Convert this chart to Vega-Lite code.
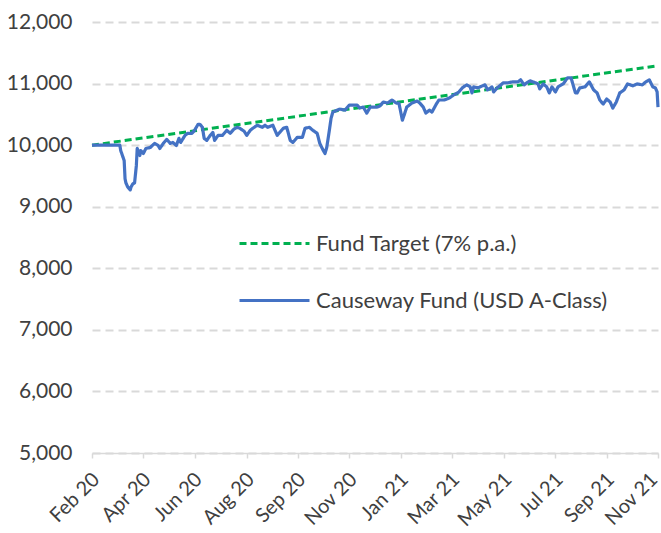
{
  "$schema": "https://vega.github.io/schema/vega-lite/v6.json",
  "width": 566,
  "height": 431,
  "autosize": "none",
  "padding": {"left": 92, "top": 22, "right": 3, "bottom": 80},
  "background": "white",
  "config": {
    "view": {"stroke": null},
    "font": "Lato",
    "axis": {"labelFont": "Lato", "labelFontSize": 20, "labelColor": "#404040"},
    "legend": {"labelFont": "Lato", "labelFontSize": 22, "labelColor": "#404040", "labelLimit": 0}
  },
  "datasets": {
    "target": [
      {"date": "2020-02-14", "value": 10000, "s": "Fund Target (7% p.a.)"},
      {"date": "2021-11-26", "value": 11290, "s": "Fund Target (7% p.a.)"}
    ],
    "fund": [
      {"date": "2020-02-14", "value": 10000},
      {"date": "2020-02-23", "value": 10000},
      {"date": "2020-03-06", "value": 10000},
      {"date": "2020-03-17", "value": 10000},
      {"date": "2020-03-18", "value": 9913},
      {"date": "2020-03-22", "value": 9749},
      {"date": "2020-03-23", "value": 9454},
      {"date": "2020-03-24", "value": 9388},
      {"date": "2020-03-26", "value": 9323},
      {"date": "2020-03-29", "value": 9273},
      {"date": "2020-03-30", "value": 9323},
      {"date": "2020-04-01", "value": 9372},
      {"date": "2020-04-03", "value": 9388},
      {"date": "2020-04-05", "value": 9667},
      {"date": "2020-04-06", "value": 9946},
      {"date": "2020-04-09", "value": 9831},
      {"date": "2020-04-10", "value": 9913},
      {"date": "2020-04-13", "value": 9864},
      {"date": "2020-04-16", "value": 9946},
      {"date": "2020-04-21", "value": 9962},
      {"date": "2020-04-26", "value": 10028},
      {"date": "2020-04-30", "value": 9995},
      {"date": "2020-05-02", "value": 9946},
      {"date": "2020-05-06", "value": 10028},
      {"date": "2020-05-10", "value": 10093},
      {"date": "2020-05-14", "value": 10028},
      {"date": "2020-05-17", "value": 10044},
      {"date": "2020-05-21", "value": 9995},
      {"date": "2020-05-24", "value": 10110},
      {"date": "2020-05-26", "value": 10044},
      {"date": "2020-05-31", "value": 10159},
      {"date": "2020-06-03", "value": 10192},
      {"date": "2020-06-08", "value": 10192},
      {"date": "2020-06-11", "value": 10241},
      {"date": "2020-06-15", "value": 10339},
      {"date": "2020-06-17", "value": 10339},
      {"date": "2020-06-20", "value": 10290},
      {"date": "2020-06-22", "value": 10110},
      {"date": "2020-06-25", "value": 10077},
      {"date": "2020-06-29", "value": 10159},
      {"date": "2020-07-02", "value": 10208},
      {"date": "2020-07-04", "value": 10077},
      {"date": "2020-07-08", "value": 10159},
      {"date": "2020-07-13", "value": 10159},
      {"date": "2020-07-18", "value": 10241},
      {"date": "2020-07-22", "value": 10192},
      {"date": "2020-07-26", "value": 10257},
      {"date": "2020-07-30", "value": 10290},
      {"date": "2020-08-02", "value": 10274},
      {"date": "2020-08-07", "value": 10225},
      {"date": "2020-08-10", "value": 10159},
      {"date": "2020-08-14", "value": 10241},
      {"date": "2020-08-17", "value": 10274},
      {"date": "2020-08-22", "value": 10323},
      {"date": "2020-08-28", "value": 10290},
      {"date": "2020-08-31", "value": 10323},
      {"date": "2020-09-03", "value": 10290},
      {"date": "2020-09-09", "value": 10323},
      {"date": "2020-09-14", "value": 10159},
      {"date": "2020-09-17", "value": 10208},
      {"date": "2020-09-21", "value": 10274},
      {"date": "2020-09-25", "value": 10290},
      {"date": "2020-09-29", "value": 10077},
      {"date": "2020-10-02", "value": 10044},
      {"date": "2020-10-07", "value": 10126},
      {"date": "2020-10-13", "value": 10126},
      {"date": "2020-10-16", "value": 10274},
      {"date": "2020-10-21", "value": 10290},
      {"date": "2020-10-25", "value": 10241},
      {"date": "2020-10-30", "value": 10192},
      {"date": "2020-11-02", "value": 10028},
      {"date": "2020-11-06", "value": 9913},
      {"date": "2020-11-08", "value": 9864},
      {"date": "2020-11-10", "value": 9962},
      {"date": "2020-11-13", "value": 10241},
      {"date": "2020-11-15", "value": 10438},
      {"date": "2020-11-17", "value": 10536},
      {"date": "2020-11-22", "value": 10569},
      {"date": "2020-11-25", "value": 10585},
      {"date": "2020-12-01", "value": 10569},
      {"date": "2020-12-06", "value": 10651},
      {"date": "2020-12-10", "value": 10651},
      {"date": "2020-12-15", "value": 10651},
      {"date": "2020-12-18", "value": 10602},
      {"date": "2020-12-22", "value": 10618},
      {"date": "2020-12-26", "value": 10520},
      {"date": "2020-12-30", "value": 10618},
      {"date": "2021-01-03", "value": 10618},
      {"date": "2021-01-07", "value": 10618},
      {"date": "2021-01-10", "value": 10635},
      {"date": "2021-01-14", "value": 10700},
      {"date": "2021-01-19", "value": 10684},
      {"date": "2021-01-24", "value": 10733},
      {"date": "2021-01-29", "value": 10684},
      {"date": "2021-02-01", "value": 10684},
      {"date": "2021-02-05", "value": 10405},
      {"date": "2021-02-07", "value": 10487},
      {"date": "2021-02-10", "value": 10618},
      {"date": "2021-02-16", "value": 10684},
      {"date": "2021-02-22", "value": 10717},
      {"date": "2021-02-25", "value": 10684},
      {"date": "2021-03-01", "value": 10618},
      {"date": "2021-03-04", "value": 10520},
      {"date": "2021-03-08", "value": 10569},
      {"date": "2021-03-11", "value": 10536},
      {"date": "2021-03-16", "value": 10667},
      {"date": "2021-03-19", "value": 10733},
      {"date": "2021-03-25", "value": 10733},
      {"date": "2021-03-31", "value": 10766},
      {"date": "2021-04-05", "value": 10815},
      {"date": "2021-04-11", "value": 10864},
      {"date": "2021-04-15", "value": 10930},
      {"date": "2021-04-18", "value": 10963},
      {"date": "2021-04-20", "value": 10979},
      {"date": "2021-04-24", "value": 10946},
      {"date": "2021-04-26", "value": 10848},
      {"date": "2021-04-28", "value": 10946},
      {"date": "2021-05-03", "value": 10930},
      {"date": "2021-05-08", "value": 10963},
      {"date": "2021-05-11", "value": 10979},
      {"date": "2021-05-14", "value": 10897},
      {"date": "2021-05-19", "value": 10946},
      {"date": "2021-05-21", "value": 10864},
      {"date": "2021-05-25", "value": 10930},
      {"date": "2021-05-28", "value": 10963},
      {"date": "2021-06-01", "value": 11012},
      {"date": "2021-06-06", "value": 11012},
      {"date": "2021-06-12", "value": 11028},
      {"date": "2021-06-18", "value": 11028},
      {"date": "2021-06-21", "value": 11061},
      {"date": "2021-06-25", "value": 10979},
      {"date": "2021-06-28", "value": 11012},
      {"date": "2021-07-02", "value": 11045},
      {"date": "2021-07-08", "value": 11012},
      {"date": "2021-07-11", "value": 10995},
      {"date": "2021-07-13", "value": 10913},
      {"date": "2021-07-17", "value": 10995},
      {"date": "2021-07-21", "value": 10946},
      {"date": "2021-07-24", "value": 10848},
      {"date": "2021-07-27", "value": 10946},
      {"date": "2021-07-31", "value": 10864},
      {"date": "2021-08-03", "value": 10946},
      {"date": "2021-08-09", "value": 10995},
      {"date": "2021-08-14", "value": 11094},
      {"date": "2021-08-18", "value": 11094},
      {"date": "2021-08-20", "value": 10995},
      {"date": "2021-08-23", "value": 10848},
      {"date": "2021-08-25", "value": 10848},
      {"date": "2021-08-28", "value": 10930},
      {"date": "2021-09-03", "value": 10946},
      {"date": "2021-09-08", "value": 11028},
      {"date": "2021-09-13", "value": 10897},
      {"date": "2021-09-17", "value": 10848},
      {"date": "2021-09-20", "value": 10733},
      {"date": "2021-09-24", "value": 10667},
      {"date": "2021-09-28", "value": 10749},
      {"date": "2021-10-02", "value": 10700},
      {"date": "2021-10-05", "value": 10602},
      {"date": "2021-10-09", "value": 10700},
      {"date": "2021-10-13", "value": 10848},
      {"date": "2021-10-18", "value": 10897},
      {"date": "2021-10-22", "value": 10995},
      {"date": "2021-10-28", "value": 10963},
      {"date": "2021-11-02", "value": 10995},
      {"date": "2021-11-08", "value": 10979},
      {"date": "2021-11-12", "value": 11028},
      {"date": "2021-11-16", "value": 11061},
      {"date": "2021-11-20", "value": 10946},
      {"date": "2021-11-23", "value": 10930},
      {"date": "2021-11-25", "value": 10864},
      {"date": "2021-11-26", "value": 10618}
    ]
  },
  "encoding": {
    "x": {
      "field": "date",
      "type": "temporal",
      "scale": {
        "domain": [
          {"year": 2020, "month": 2, "date": 14, "utc": true},
          {"year": 2021, "month": 11, "date": 26, "utc": true}
        ]
      },
      "axis": {
        "title": null,
        "grid": false,
        "values": [
          {"year": 2020, "month": 2, "date": 14, "utc": true},
          {"year": 2020, "month": 4, "date": 13, "utc": true},
          {"year": 2020, "month": 6, "date": 11, "utc": true},
          {"year": 2020, "month": 8, "date": 10, "utc": true},
          {"year": 2020, "month": 10, "date": 8, "utc": true},
          {"year": 2020, "month": 12, "date": 6, "utc": true},
          {"year": 2021, "month": 2, "date": 3, "utc": true},
          {"year": 2021, "month": 4, "date": 3, "utc": true},
          {"year": 2021, "month": 6, "date": 2, "utc": true},
          {"year": 2021, "month": 7, "date": 31, "utc": true},
          {"year": 2021, "month": 9, "date": 28, "utc": true},
          {"year": 2021, "month": 11, "date": 26, "utc": true}
        ],
        "labelExpr": "['Feb 20','Apr 20','Jun 20','Aug 20','Sep 20','Nov 20','Jan 21','Mar 21','May 21','Jul 21','Sep 21','Nov 21'][round((datum.value - utc(2020,1,14)) / 5113309091)]",
        "labelAngle": -45,
        "labelAlign": "right",
        "labelBaseline": "middle",
        "labelPadding": 18,
        "labelOffset": {
          "condition": {"test": "datum.value > utc(2021,10,1)", "value": -4},
          "value": 4
        },
        "labelFlush": false,
        "labelOverlap": false,
        "domainColor": "#d9d9d9",
        "domainWidth": 1.5,
        "tickColor": "#d9d9d9",
        "tickWidth": 1.5,
        "tickSize": 5
      }
    },
    "y": {
      "field": "value",
      "type": "quantitative",
      "scale": {"domain": [5000, 12000], "nice": false, "zero": false},
      "axis": {
        "title": null,
        "values": [5000, 6000, 7000, 8000, 9000, 10000, 11000, 12000],
        "format": ",.0f",
        "labelFontSize": 21,
        "domain": false,
        "ticks": false,
        "labelPadding": 20,
        "gridColor": "#d9d9d9",
        "gridWidth": 2,
        "gridDash": [8, 5]
      }
    }
  },
  "layer": [
    {
      "data": {"name": "target"},
      "mark": {"type": "line", "strokeWidth": 3},
      "encoding": {
        "color": {
          "field": "s",
          "type": "nominal",
          "scale": {
            "domain": ["Fund Target (7% p.a.)", "Causeway Fund (USD A-Class)"],
            "range": ["#00b050", "#4472c4"]
          },
          "legend": {
            "title": null,
            "orient": "none",
            "legendX": 146,
            "legendY": 185,
            "padding": 0,
            "symbolType": "stroke",
            "symbolSize": 4900,
            "symbolStrokeWidth": 3,
            "labelOffset": 5,
            "labelLimit": 0,
            "rowPadding": 9
          }
        },
        "strokeDash": {
          "field": "s",
          "type": "nominal",
          "scale": {
            "domain": ["Fund Target (7% p.a.)", "Causeway Fund (USD A-Class)"],
            "range": [[7, 4], [1, 0]]
          },
          "legend": {
            "title": null,
            "orient": "none",
            "legendX": 146,
            "legendY": 185,
            "padding": 0,
            "symbolType": "stroke",
            "symbolSize": 4900,
            "symbolStrokeWidth": 3,
            "labelOffset": 5,
            "labelLimit": 0,
            "rowPadding": 9
          }
        }
      }
    },
    {
      "data": {"name": "fund"},
      "transform": [{"calculate": "'Causeway Fund (USD A-Class)'", "as": "s"}],
      "mark": {"type": "line", "strokeWidth": 3.2, "strokeJoin": "round"},
      "encoding": {
        "color": {"field": "s", "type": "nominal"},
        "strokeDash": {"field": "s", "type": "nominal"}
      }
    }
  ]
}
